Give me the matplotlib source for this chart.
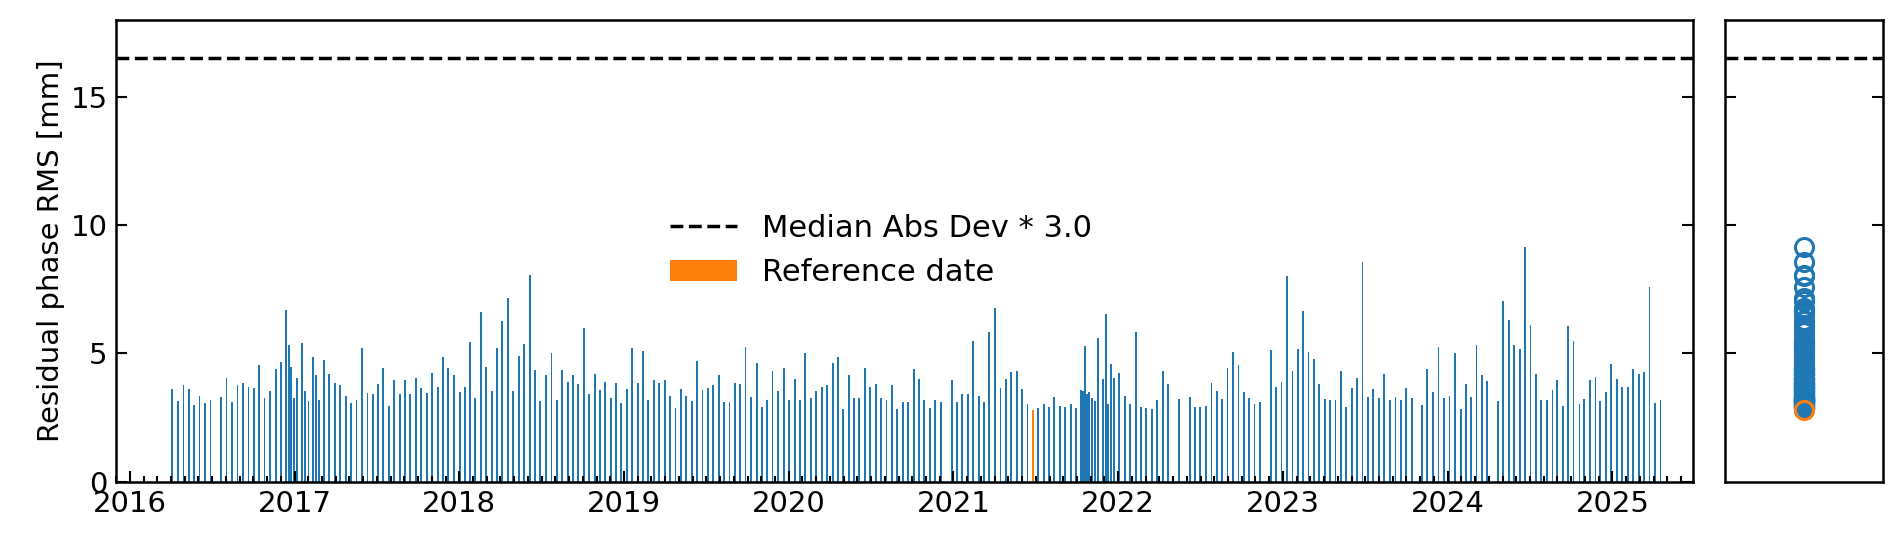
import numpy as np
import matplotlib.pyplot as plt

# acquisition dates (decimal years) and residual phase RMS [mm]
dates = [
    2016.257, 2016.294, 2016.326, 2016.358, 2016.391, 2016.423, 2016.458, 2016.490, 2016.555, 2016.587,
    2016.622, 2016.654, 2016.686, 2016.721, 2016.753, 2016.785, 2016.818, 2016.852, 2016.885, 2016.917,
    2016.949, 2016.968, 2016.980, 2016.998, 2017.016, 2017.047, 2017.065, 2017.085, 2017.111, 2017.132,
    2017.148, 2017.178, 2017.210, 2017.245, 2017.277, 2017.312, 2017.344, 2017.376, 2017.409, 2017.443,
    2017.476, 2017.508, 2017.538, 2017.575, 2017.605, 2017.640, 2017.672, 2017.702, 2017.739, 2017.769,
    2017.806, 2017.836, 2017.870, 2017.903, 2017.933, 2017.969, 2018.002, 2018.034, 2018.067, 2018.097,
    2018.133, 2018.164, 2018.198, 2018.231, 2018.261, 2018.297, 2018.328, 2018.362, 2018.394, 2018.427,
    2018.461, 2018.492, 2018.528, 2018.560, 2018.591, 2018.625, 2018.658, 2018.690, 2018.722, 2018.755,
    2018.789, 2018.822, 2018.854, 2018.886, 2018.919, 2018.951, 2018.983, 2019.018, 2019.050, 2019.083,
    2019.115, 2019.147, 2019.182, 2019.214, 2019.247, 2019.279, 2019.313, 2019.346, 2019.378, 2019.412,
    2019.445, 2019.477, 2019.510, 2019.542, 2019.576, 2019.609, 2019.641, 2019.674, 2019.706, 2019.738,
    2019.773, 2019.805, 2019.838, 2019.870, 2019.902, 2019.937, 2019.969, 2020.003, 2020.036, 2020.068,
    2020.101, 2020.135, 2020.167, 2020.200, 2020.232, 2020.267, 2020.299, 2020.331, 2020.364, 2020.396,
    2020.429, 2020.463, 2020.495, 2020.528, 2020.560, 2020.594, 2020.627, 2020.659, 2020.692, 2020.724,
    2020.758, 2020.791, 2020.823, 2020.858, 2020.890, 2020.922, 2020.989, 2021.021, 2021.054, 2021.086,
    2021.121, 2021.153, 2021.185, 2021.218, 2021.250, 2021.285, 2021.317, 2021.349, 2021.384, 2021.416,
    2021.449, 2021.483, 2021.515, 2021.548, 2021.580, 2021.612, 2021.647, 2021.679, 2021.712, 2021.744,
    2021.776, 2021.787, 2021.799, 2021.811, 2021.825, 2021.843, 2021.861, 2021.876, 2021.908, 2021.924,
    2021.940, 2021.958, 2021.975, 2022.007, 2022.040, 2022.072, 2022.106, 2022.139, 2022.171, 2022.203,
    2022.238, 2022.270, 2022.303, 2022.369, 2022.434, 2022.467, 2022.499, 2022.533, 2022.566, 2022.598,
    2022.630, 2022.663, 2022.697, 2022.730, 2022.762, 2022.794, 2022.827, 2022.861, 2022.926, 2022.958,
    2022.991, 2023.023, 2023.058, 2023.090, 2023.122, 2023.155, 2023.187, 2023.221, 2023.254, 2023.286,
    2023.319, 2023.351, 2023.385, 2023.418, 2023.450, 2023.483, 2023.517, 2023.549, 2023.581, 2023.616,
    2023.650, 2023.683, 2023.715, 2023.749, 2023.782, 2023.845, 2023.877, 2023.911, 2023.944, 2023.978,
    2024.011, 2024.043, 2024.080, 2024.110, 2024.143, 2024.175, 2024.207, 2024.241, 2024.308, 2024.338,
    2024.373, 2024.405, 2024.438, 2024.470, 2024.503, 2024.537, 2024.569, 2024.602, 2024.636, 2024.666,
    2024.699, 2024.733, 2024.764, 2024.800, 2024.830, 2024.865, 2024.897, 2024.927, 2024.962, 2024.994,
    2025.028, 2025.060, 2025.093, 2025.127, 2025.160, 2025.194, 2025.225, 2025.259, 2025.292,
]
rms = [
    3.63, 3.13, 3.75, 3.63, 3.00, 3.36, 3.05, 3.17, 3.32, 4.06,
    3.09, 3.75, 3.86, 3.71, 3.67, 4.56, 3.28, 3.52, 4.41, 4.68,
    6.69, 5.34, 4.48, 3.25, 4.06, 5.41, 3.52, 3.13, 4.87, 4.14,
    3.20, 4.76, 4.21, 3.83, 3.75, 3.36, 3.05, 3.20, 5.22, 3.44,
    3.40, 3.79, 4.45, 2.97, 3.98, 3.40, 3.98, 3.40, 4.06, 3.67,
    3.44, 4.25, 3.71, 4.87, 4.45, 4.14, 3.48, 3.71, 5.45, 3.28,
    6.62, 4.48, 3.52, 5.22, 6.27, 7.16, 3.55, 4.91, 5.38, 8.05,
    4.37, 3.13, 4.17, 5.03, 3.17, 4.37, 3.90, 4.14, 3.79, 6.00,
    3.40, 4.21, 3.59, 3.90, 3.28, 3.83, 3.05, 3.63, 5.22, 3.83,
    5.10, 3.17, 3.98, 3.86, 3.98, 3.36, 2.86, 3.63, 3.36, 3.13,
    4.72, 3.59, 3.67, 3.75, 4.17, 3.09, 3.09, 3.83, 3.79, 5.26,
    3.32, 4.64, 2.90, 3.17, 4.33, 3.55, 4.45, 3.20, 4.02, 3.20,
    5.03, 3.28, 3.52, 3.71, 3.75, 4.64, 4.87, 2.85, 4.17, 3.28,
    3.28, 4.45, 3.71, 3.79, 3.28, 3.17, 3.75, 2.85, 3.09, 3.09,
    4.41, 4.02, 3.20, 2.86, 3.20, 3.09, 3.98, 3.09, 3.40, 3.40,
    5.49, 3.36, 3.09, 5.84, 6.77, 3.67, 4.02, 4.29, 4.33, 3.63,
    3.01, 2.78, 2.86, 3.01, 2.90, 3.32, 2.97, 2.90, 3.01, 2.86,
    3.59, 3.52, 5.30, 3.40, 3.48, 3.25, 3.13, 5.61, 4.02, 6.54,
    3.01, 4.60, 4.06, 4.25, 3.36, 3.01, 5.84, 2.93, 2.86, 2.82,
    3.20, 4.33, 3.79, 3.24, 3.32, 2.93, 2.93, 2.97, 3.86, 3.55,
    3.24, 4.45, 5.07, 4.56, 3.51, 3.25, 3.01, 3.09, 5.14, 3.71,
    3.90, 8.01, 4.33, 5.18, 6.65, 5.07, 4.79, 3.82, 3.24, 3.17,
    3.17, 4.33, 2.90, 3.67, 4.06, 8.55, 3.32, 3.63, 3.25, 4.21,
    3.17, 3.30, 3.17, 3.67, 3.28, 3.00, 4.41, 3.48, 5.26, 3.28,
    3.36, 5.03, 2.82, 3.79, 3.32, 5.34, 4.14, 3.94, 3.13, 7.04,
    6.31, 5.34, 5.18, 9.14, 6.11, 4.21, 3.20, 3.17, 3.59, 3.98,
    2.97, 6.07, 5.49, 3.01, 3.24, 3.98, 4.10, 3.13, 3.51, 4.60,
    4.02, 3.71, 3.71, 4.41, 4.21, 4.29, 7.59, 3.05, 3.17,
]
ref_date = 2021.483
threshold = 16.5
year_ticks = list(range(2016, 2026))

dates = np.array(dates)
rms = np.array(rms)
is_ref = np.isclose(dates, ref_date)

fig = plt.figure(figsize=(19.03, 5.45), dpi=100)
ax = fig.add_axes([0.061, 0.116, 0.8287, 0.848])
ax2 = fig.add_axes([0.9065, 0.116, 0.083, 0.848])

ax.bar(dates[~is_ref], rms[~is_ref], width=0.011, color='#1f77b4')
ax.bar(dates[is_ref], rms[is_ref], width=0.011, color='#ff7f0e', label='Reference date')
ax.axhline(threshold, color='k', ls='--', lw=2.5, label='Median Abs Dev * 3.0')
ax.set_xlim(2015.92, 2025.49)
ax.set_ylim(0, 18)
ax.set_xticks(year_ticks)
ax.set_xticklabels([str(y) for y in year_ticks])
ax.set_xticks(np.arange(2015 + 11 / 12, 2025.5, 1 / 12), minor=True)
ax.set_yticks([0, 5, 10, 15])
ax.set_ylabel('Residual phase RMS [mm]', fontsize=21)
ax.tick_params(axis='both', which='both', direction='in', right=True, labelsize=21, width=1.5)
ax.tick_params(which='major', length=8, pad=6)
ax.tick_params(which='minor', length=4)
ax.legend(loc='center', bbox_to_anchor=(0.485, 0.5), frameon=False, fontsize=22,
          handlelength=2.2)

ax2.plot(np.zeros((~is_ref).sum()), rms[~is_ref], 'o', mfc='none', mec='#1f77b4', ms=13, mew=2.2)
ax2.plot(np.zeros(is_ref.sum()), rms[is_ref], 'o', mfc='none', mec='#ff7f0e', ms=13, mew=2.2)
ax2.axhline(threshold, color='k', ls='--', lw=2.5)
ax2.set_ylim(0, 18)
ax2.set_xlim(-1, 1)
ax2.set_xticks([])
ax2.set_yticks([5, 10, 15])
ax2.set_yticklabels([])
ax2.tick_params(axis='y', direction='in', left=True, right=True, length=8, width=1.5)

for a in (ax, ax2):
    for s in a.spines.values():
        s.set_linewidth(1.8)

fig.savefig('out.png', dpi=100)
